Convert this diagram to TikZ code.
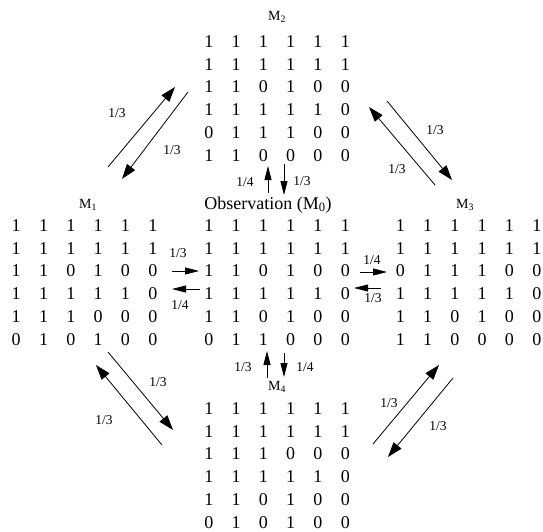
\documentclass[tikz,border=0pt]{standalone}
\usepackage{fontspec}
\setmainfont{Liberation Serif}
\usetikzlibrary{matrix,arrows.meta}
\tikzset{
  mat/.style={matrix of nodes, column sep=0pt, row sep=0pt,
    nodes={minimum width=27.3pt, minimum height=22.8pt, inner sep=0pt,
      font=\fontsize{18}{18}\selectfont}},
  title/.style={inner sep=0pt, font=\fontsize{14}{14}\selectfont},
  obs/.style={inner sep=0pt, font=\fontsize{18}{18}\selectfont},
  prob/.style={inner sep=0pt, font=\fontsize{13.5}{13.5}\selectfont},
  arr/.style={-{Triangle[length=14pt,width=7pt]}, line width=0.8pt},
  darr/.style={-{Triangle[length=15pt,width=10pt]}, line width=0.8pt},
}
\begin{document}
\begin{tikzpicture}[x=1pt,y=-1pt]
\useasboundingbox (0,0) rectangle (543,532);
% titles
\node[title] (t2) at (277,17) {M\textsubscript{2}};
\node[title] (t1) at (88,205) {M\textsubscript{1}};
\node[title] (t3) at (465,205) {M\textsubscript{3}};
\node[obs] (t0) at (268,205) {Observation (M\textsubscript{0})};
\node[title] (t4) at (277,387) {M\textsubscript{4}};
% matrices
\matrix (m2) at (277,98.5) [mat] {
1 & 1 & 1 & 1 & 1 & 1\\
1 & 1 & 1 & 1 & 1 & 1\\
1 & 1 & 0 & 1 & 0 & 0\\
1 & 1 & 1 & 1 & 1 & 0\\
0 & 1 & 1 & 1 & 0 & 0\\
1 & 1 & 0 & 0 & 0 & 0\\};
\matrix (m1) at (84.5,282.5) [mat] {
1 & 1 & 1 & 1 & 1 & 1\\
1 & 1 & 1 & 1 & 1 & 1\\
1 & 1 & 0 & 1 & 0 & 0\\
1 & 1 & 1 & 1 & 1 & 0\\
1 & 1 & 1 & 0 & 0 & 0\\
0 & 1 & 0 & 1 & 0 & 0\\};
\matrix (m0) at (277,282.5) [mat] {
1 & 1 & 1 & 1 & 1 & 1\\
1 & 1 & 1 & 1 & 1 & 1\\
1 & 1 & 0 & 1 & 0 & 0\\
1 & 1 & 1 & 1 & 1 & 0\\
1 & 1 & 0 & 1 & 0 & 0\\
0 & 1 & 1 & 0 & 0 & 0\\};
\matrix (m3) at (468.5,282.5) [mat] {
1 & 1 & 1 & 1 & 1 & 1\\
1 & 1 & 1 & 1 & 1 & 1\\
0 & 1 & 1 & 1 & 0 & 0\\
1 & 1 & 1 & 1 & 1 & 0\\
1 & 1 & 0 & 1 & 0 & 0\\
1 & 1 & 0 & 0 & 0 & 0\\};
\matrix (m4) at (277,465.5) [mat] {
1 & 1 & 1 & 1 & 1 & 1\\
1 & 1 & 1 & 1 & 1 & 1\\
1 & 1 & 1 & 0 & 0 & 0\\
1 & 1 & 1 & 1 & 1 & 0\\
1 & 1 & 0 & 1 & 0 & 0\\
0 & 1 & 0 & 1 & 0 & 0\\};
% arrow end points
\coordinate (a1) at (108,167); \coordinate (a2) at (175,87);
\coordinate (b1) at (188,92);  \coordinate (b2) at (122,179);
\coordinate (c1) at (387,101); \coordinate (c2) at (452,180);
\coordinate (d1) at (435,185); \coordinate (d2) at (369,107);
\coordinate (e1) at (108,352); \coordinate (e2) at (173,430);
\coordinate (f1) at (162,445); \coordinate (f2) at (96,365);
\coordinate (g1) at (373,444); \coordinate (g2) at (439,365);
\coordinate (h1) at (453,378); \coordinate (h2) at (388,457);
\coordinate (i1) at (172,271); \coordinate (i2) at (199,271);
\coordinate (j1) at (200,289); \coordinate (j2) at (172,289);
\coordinate (k1) at (360,272); \coordinate (k2) at (387,272);
\coordinate (l1) at (381,288); \coordinate (l2) at (354,288);
\coordinate (n1) at (268,193); \coordinate (n2) at (268,166);
\coordinate (o1) at (284,164); \coordinate (o2) at (284,195);
\coordinate (p1) at (267,378); \coordinate (p2) at (267,351);
\coordinate (q1) at (284,353); \coordinate (q2) at (284,377);
% diagonal arrows
\draw[darr] (a1) -- (a2); \draw[darr] (b1) -- (b2);
\draw[darr] (c1) -- (c2); \draw[darr] (d1) -- (d2);
\draw[darr] (e1) -- (e2); \draw[darr] (f1) -- (f2);
\draw[darr] (g1) -- (g2); \draw[darr] (h1) -- (h2);
% short arrows
\draw[arr] (i1) -- (i2); \draw[arr] (j1) -- (j2);
\draw[arr] (k1) -- (k2); \draw[arr] (l1) -- (l2);
\draw[arr] (n1) -- (n2); \draw[arr] (o1) -- (o2);
\draw[arr] (p1) -- (p2); \draw[arr] (q1) -- (q2);
% probability labels
\node[prob] (pa) at (117,113) {1/3};
\node[prob] (pb) at (172,150) {1/3};
\node[prob] (pc) at (435,130) {1/3};
\node[prob] (pd) at (397,169) {1/3};
\node[prob] (pe) at (158,382) {1/3};
\node[prob] (pf) at (104,420) {1/3};
\node[prob] (pg) at (389,403) {1/3};
\node[prob] (ph) at (438,426) {1/3};
\node[prob] (pi) at (178,253) {1/3};
\node[prob] (pj) at (180,305) {1/4};
\node[prob] (pk) at (372,260) {1/4};
\node[prob] (pl) at (373,298) {1/3};
\node[prob] (pn) at (245,182) {1/4};
\node[prob] (po) at (302,181) {1/3};
\node[prob] (pp) at (243,367) {1/3};
\node[prob] (pq) at (305,367) {1/4};
\end{tikzpicture}
\end{document}
